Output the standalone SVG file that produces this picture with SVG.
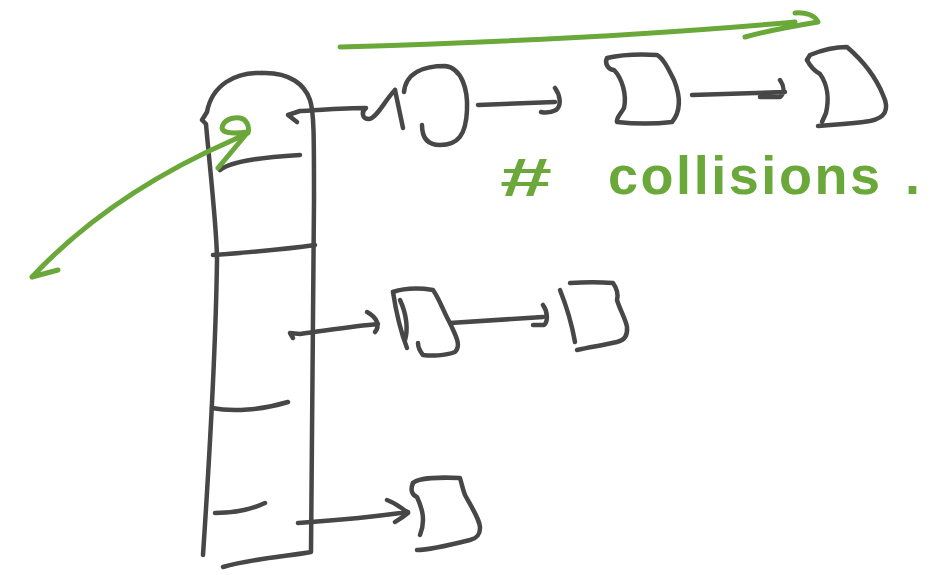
<svg xmlns="http://www.w3.org/2000/svg" width="949" height="575" viewBox="0 0 949 575">
  <style>
    .ink { fill: none; stroke: #474747; stroke-width: 4.5; stroke-linecap: round; stroke-linejoin: round; }
    .green { fill: none; stroke: #6aa83a; stroke-width: 5; stroke-linecap: round; stroke-linejoin: round; }
    .note { fill: #6aa83a; font-family: "Liberation Sans", "DejaVu Sans", sans-serif; font-size: 54px; font-weight: bold; }
  </style>
  <rect width="949" height="575" fill="#ffffff"/>

  <!-- bucket array -->
  <g id="buckets">
    <path class="ink" d="M262,73 C235,72 212,85 207,112 L202,120 L206,124 C210,170 217,230 217,260 C216,330 212,420 203,555"/>
    <path class="ink" d="M262,73 C290,72 305,85 310,100 C314,112 314,135 314,200 L311,552 C290,556 255,558 223,567"/>
    <path class="ink" d="M220,170 C232,160 270,157 300,155"/>
    <path class="ink" d="M213,255 C240,253 280,250 315,245"/>
    <path class="ink" d="M212,408 C232,412 262,410 288,402"/>
    <path class="ink" d="M215,513 C235,513 250,510 265,503"/>
  </g>

  <!-- chain nodes -->
  <g id="node-a">
    <path class="ink" d="M395,90 L403,128"/>
    <path class="ink" d="M404,92 C406,72 425,66 445,66 C462,68 468,90 467,110 C466,135 458,145 440,145 C428,145 422,138 422,125"/>
  </g>
  <g id="node-b">
    <path class="ink" d="M607,58 C604,64 609,70 614,70 C622,78 627,95 624,108 C620,115 616,118 617,122 C635,124 655,124 672,122 C682,110 680,95 674,80 C668,68 663,58 657,55 C640,54 620,55 607,58"/>
  </g>
  <g id="node-c">
    <path class="ink" d="M807,60 C810,66 813,70 820,74 C828,85 829,100 826,113 L822,122"/>
    <path class="ink" d="M807,60 L810,55 C822,50 835,47 847,47 C862,60 875,75 883,95 C890,110 885,118 870,121 C850,124 830,125 818,126"/>
  </g>
  <g id="node-d">
    <path class="ink" d="M393,292 C395,305 400,330 407,348"/>
    <path class="ink" d="M400,300 C407,315 408,330 405,340"/>
    <path class="ink" d="M393,292 C405,288 420,288 433,290 C440,300 445,315 450,323 C455,335 462,345 455,352 C445,356 430,356 423,355 C419,350 418,346 418,343"/>
  </g>
  <g id="node-e">
    <path class="ink" d="M560,290 C566,305 572,325 575,342"/>
    <path class="ink" d="M570,283 C585,282 600,282 613,283 C618,290 618,296 617,300 C620,310 626,320 627,327 C628,338 622,341 617,342 C605,345 590,347 577,350"/>
  </g>
  <g id="node-f">
    <path class="ink" d="M413,483 C410,490 412,495 417,497 C422,508 426,520 420,535"/>
    <path class="ink" d="M413,483 C418,478 440,477 460,478 C462,485 463,490 465,495 C472,508 480,520 480,528 C480,535 477,538 470,540 C450,545 430,550 417,550"/>
  </g>

  <!-- links -->
  <g id="connectors">
    <path class="ink" d="M297,122 L288,115 L300,111 C320,110 345,108 366,108 C361,112 362,119 369,119 C377,118 385,100 395,90"/>
    <path class="ink" d="M478,105 L555,102 M555,88 C560,95 562,105 556,110 C550,113 545,113 541,112"/>
    <path class="ink" d="M692,95 L785,92 M780,80 C784,86 785,93 780,97 L760,97"/>
    <path class="ink" d="M293,338 L290,333 L300,334 C330,330 355,326 378,324 M367,312 C378,318 380,326 375,332"/>
    <path class="ink" d="M450,323 L543,317 M543,305 C548,312 548,322 544,325 L533,325"/>
    <path class="ink" d="M298,523 C340,520 380,516 408,512 M387,500 C395,503 402,508 408,513 C402,518 398,520 395,522"/>
  </g>

  <!-- annotations -->
  <g id="annotations">
    <path class="green" d="M340,47 C480,43 650,35 795,22 M745,37 C770,30 800,25 818,22 C815,15 805,12 795,13"/>
    <path class="green" d="M32,277 C90,215 160,172 233,140 L248,133 C250,126 246,119 240,118 C232,117 223,120 222,128 C223,133 230,134 248,132 L218,168 M32,277 L58,270"/>
    <text class="note" x="500" y="196" font-size="58" textLength="52" lengthAdjust="spacingAndGlyphs">#</text>
    <text class="note" x="608" y="194" textLength="272" lengthAdjust="spacing">collisions</text>
    <text class="note" x="905" y="194">.</text>
  </g>
</svg>
